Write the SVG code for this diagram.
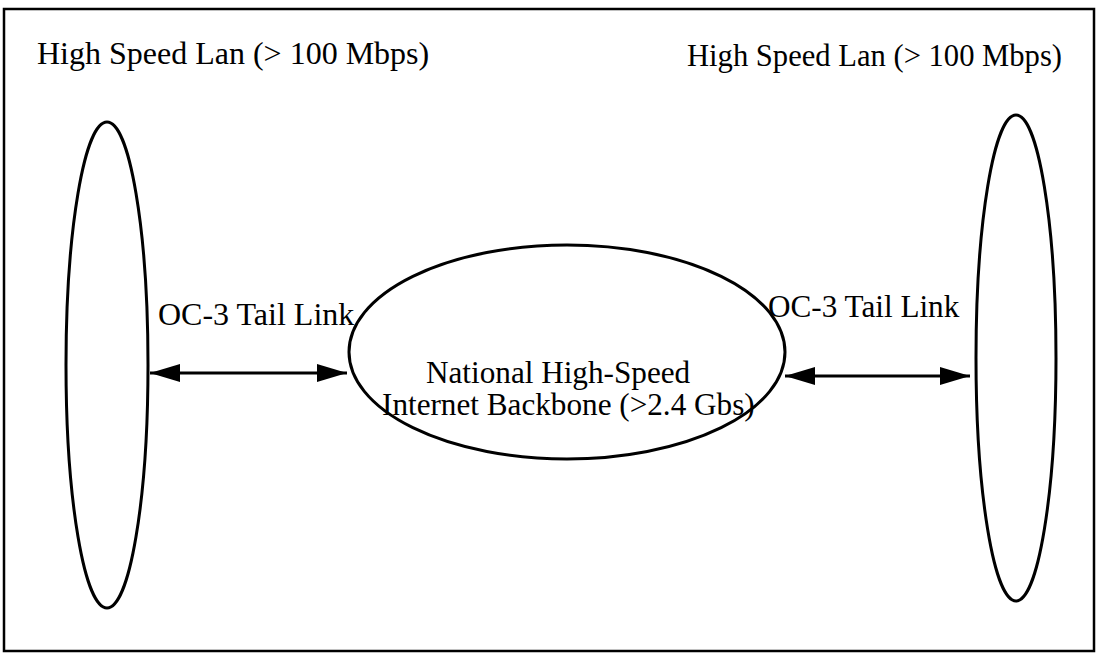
<svg xmlns="http://www.w3.org/2000/svg" width="1102" height="654" viewBox="0 0 1102 654">
  <style>
    .t { font-family: "Liberation Serif", "Times New Roman", serif; fill: #000; }
    .shape { fill: none; stroke: #000; stroke-width: 3; }
    .conn { stroke: #000; stroke-width: 3; fill: none; }
  </style>
  <defs>
    <marker id="ah" viewBox="0 0 30 18" refX="30" refY="9" markerWidth="30" markerHeight="18" markerUnits="userSpaceOnUse" orient="auto-start-reverse">
      <path d="M0,0 L30,9 L0,18 Z" fill="#000"/>
    </marker>
  </defs>
  <rect x="0" y="0" width="1102" height="654" fill="#fff"/>
  <rect x="4" y="9" width="1090" height="642" fill="none" stroke="#000" stroke-width="2.5"/>

  <g id="lan-left">
    <ellipse class="shape" cx="107" cy="365" rx="41" ry="243"/>
    <text class="t" x="37" y="64" font-size="32">High Speed Lan (&gt; 100 Mbps)</text>
  </g>
  <g id="lan-right">
    <ellipse class="shape" cx="1016" cy="358" rx="40" ry="243"/>
    <text class="t" x="687" y="66" font-size="30.6">High Speed Lan (&gt; 100 Mbps)</text>
  </g>
  <g id="backbone">
    <ellipse class="shape" cx="567" cy="352" rx="218" ry="107"/>
    <text class="t" x="426" y="383" font-size="31.2">National High-Speed</text>
    <text class="t" x="382" y="415" font-size="31.2">Internet Backbone (&gt;2.4 Gbs)</text>
  </g>
  <g id="connectors">
    <line class="conn" x1="150" y1="373" x2="347" y2="373" marker-start="url(#ah)" marker-end="url(#ah)"/>
    <text class="t" x="158" y="325" font-size="32">OC-3 Tail Link</text>
    <line class="conn" x1="785" y1="376" x2="970" y2="376" marker-start="url(#ah)" marker-end="url(#ah)"/>
    <text class="t" x="768" y="317" font-size="31.2">OC-3 Tail Link</text>
  </g>
</svg>
